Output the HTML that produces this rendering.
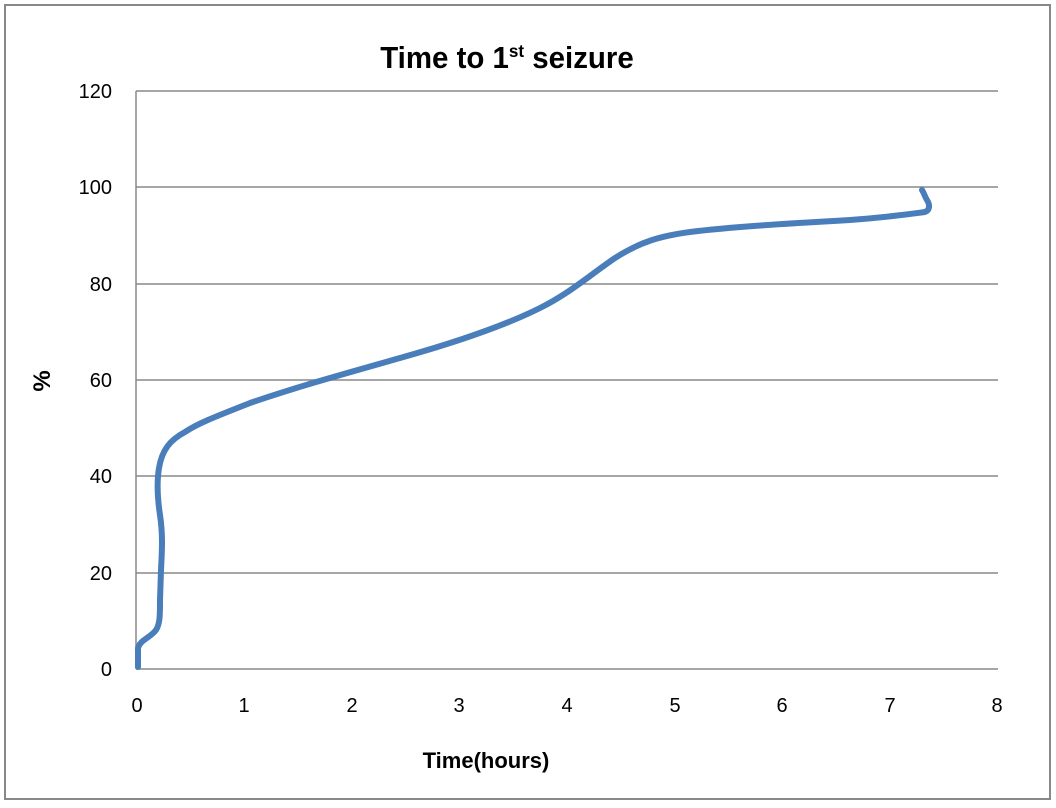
<!DOCTYPE html><html><head><style>body{margin:0;background:#fff}svg{display:block}</style></head><body>
<svg width="1056" height="808" xmlns="http://www.w3.org/2000/svg" font-family="Liberation Sans, sans-serif">
<rect x="5" y="5" width="1045" height="794" fill="#fff" stroke="#888" stroke-width="2"/>
<text x="507" y="68" font-size="31" font-weight="bold" text-anchor="middle" transform="translate(507 0) scale(0.95 1) translate(-507 0)">Time to 1<tspan font-size="18" dy="-11">st</tspan><tspan dy="11"> seizure</tspan></text>
<g stroke="#888" stroke-width="1.5">
<line x1="136" y1="91" x2="998" y2="91"/><line x1="136" y1="187" x2="998" y2="187"/><line x1="136" y1="284" x2="998" y2="284"/><line x1="136" y1="380" x2="998" y2="380"/><line x1="136" y1="476" x2="998" y2="476"/><line x1="136" y1="573" x2="998" y2="573"/><line x1="136" y1="669" x2="998" y2="669"/><line x1="136" y1="91" x2="136" y2="669"/>
</g>
<g font-size="20" text-anchor="end" fill="#000">
<text x="112" y="98">120</text><text x="112" y="194">100</text><text x="112" y="291">80</text><text x="112" y="387">60</text><text x="112" y="483">40</text><text x="112" y="580">20</text><text x="112" y="676">0</text>
</g>
<g font-size="20" text-anchor="middle">
<text x="137" y="712">0</text><text x="244" y="712">1</text><text x="352" y="712">2</text><text x="459" y="712">3</text><text x="567" y="712">4</text><text x="675" y="712">5</text><text x="782" y="712">6</text><text x="890" y="712">7</text><text x="997" y="712">8</text>
</g>
<text x="486" y="768" font-size="22" font-weight="bold" text-anchor="middle">Time(hours)</text>
<text transform="translate(50 381) rotate(-90)" font-size="24" font-weight="bold" text-anchor="middle">%</text>
<path d="M138,667 L138,648 C140,640 150,638 156,630 C160,624 160,615 160,600 L161,570 C162,550 163,535 160,515 C157,495 157,480 159,468 C162,450 170,440 185,432 C200,422 225,413 250,403 C300,386 340,375 400,358 C450,344 500,328 540,308 C570,293 590,275 615,258 C640,242 660,236 690,232 C730,227 780,224 850,220 C890,217 910,214 925,212 C930,210 930,205 927,200 C925,197 924,193 922,190" fill="none" stroke="#4a7ebb" stroke-width="6" stroke-linecap="round" stroke-linejoin="round"/>
</svg></body></html>
